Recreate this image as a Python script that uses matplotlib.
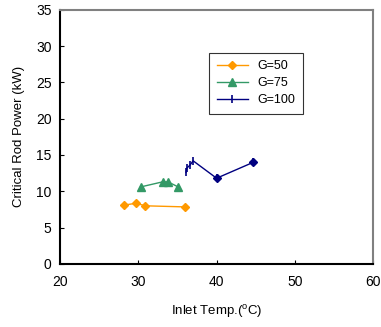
import matplotlib
matplotlib.use("Agg")
import matplotlib.pyplot as plt

plt.rcParams["font.family"] = ["Liberation Sans", "DejaVu Sans"]

# data
g50_t = [28.2, 29.7, 30.9, 36.0]
g50_p = [8.1, 8.35, 8.0, 7.85]

g75_t = [30.3, 33.1, 33.8, 35.1]
g75_p = [10.6, 11.3, 11.3, 10.6]

g100_t = [36.1, 36.2, 36.6, 37.0, 40.0, 44.7]
g100_p = [12.6, 13.2, 13.6, 14.2, 11.8, 14.0]

fig = plt.figure(figsize=(3.81, 3.27), dpi=100)
ax = fig.add_axes([0.1575, 0.193, 0.822, 0.777])

ax.plot(g50_t, g50_p, color="#FF9900", marker="D", markersize=4.5, lw=1.0, label="G=50")
ax.plot(g75_t, g75_p, color="#339966", marker="^", markersize=5.5, lw=1.0, label="G=75")
ax.plot(g100_t, g100_p, color="#000080", marker="|", markersize=6, mew=1.2, lw=1.0, label="G=100")
# last two G=100 points render as small diamonds in the reference
ax.plot(g100_t[-2:], g100_p[-2:], ls="none", marker="D", markersize=4, color="#000080")

ax.set_xlim(20, 60)
ax.set_ylim(0, 35)
ax.set_xticks([20, 30, 40, 50, 60])
ax.set_yticks(range(0, 36, 5))
ax.tick_params(direction="in", length=3, labelsize=10, pad=8)
ax.tick_params(axis="y", pad=6)

ax.set_xlabel("Inlet Temp.($^{\\mathregular{o}}$C)", fontsize=9.5, labelpad=10)
ax.set_ylabel("Critical Rod Power (kW)", fontsize=9.5, labelpad=8)

for s in ["left", "bottom"]:
    ax.spines[s].set_color("black")
    ax.spines[s].set_linewidth(1.5)
for s in ["top", "right"]:
    ax.spines[s].set_color("#808080")
    ax.spines[s].set_linewidth(1.5)

leg = ax.legend(loc="upper left", bbox_to_anchor=(0.476, 0.831), borderaxespad=0,
                fontsize=9, frameon=True, fancybox=False, edgecolor="black",
                handlelength=2.5, borderpad=0.6, labelspacing=0.4)
leg.get_frame().set_linewidth(0.8)

fig.savefig("out.png", dpi=100)
